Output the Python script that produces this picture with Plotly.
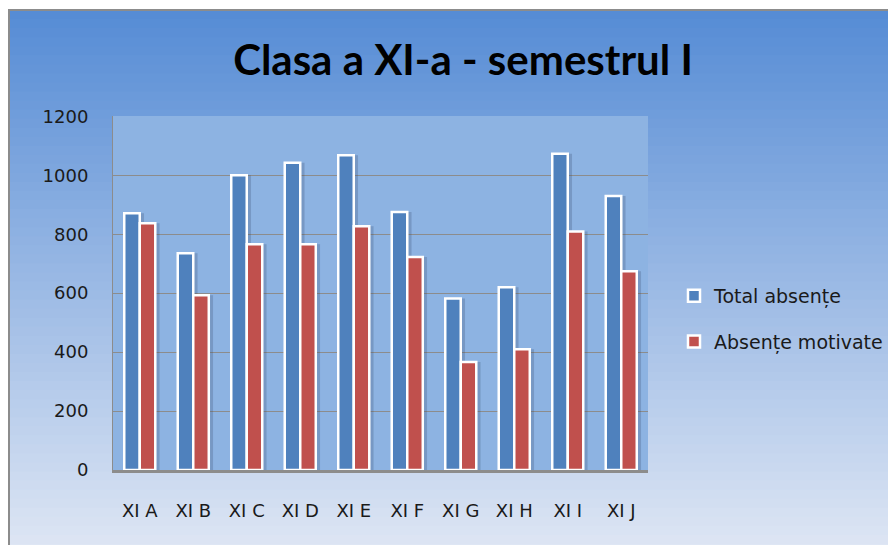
import plotly.graph_objects as go

categories = ["XI A", "XI B", "XI C", "XI D", "XI E", "XI F", "XI G", "XI H", "XI I", "XI J"]
total_absente = [871, 735, 1000, 1042, 1068, 875, 582, 620, 1073, 930]
absente_motivate = [837, 593, 766, 766, 827, 723, 366, 410, 809, 674]
series_names = ["Total absențe", "Absențe motivate"]

TITLE_FONT = "Lato"
FONT = "DejaVu Sans"

BAR_W = 0.29
SHADOW_DX = 0.08

fig = go.Figure()
# soft drop shadows behind the bars
for vals, off in [(total_absente, -BAR_W), (absente_motivate, 0.0)]:
    fig.add_trace(go.Bar(
        x=categories, y=vals, width=BAR_W, offset=off + SHADOW_DX,
        marker=dict(color="rgba(40,60,90,0.22)", line=dict(width=0)),
        showlegend=False, hoverinfo="skip",
    ))
fig.add_trace(go.Bar(
    x=categories, y=total_absente, name=series_names[0],
    width=BAR_W, offset=-BAR_W,
    marker=dict(color="#4f81bd", line=dict(color="white", width=2.5)),
    legendgroup="a",
))
fig.add_trace(go.Bar(
    x=categories, y=absente_motivate, name=series_names[1],
    width=BAR_W, offset=0.0,
    marker=dict(color="#c0504d", line=dict(color="white", width=2.5)),
    legendgroup="b",
))

# figure geometry in pixels
W, H = 896, 545
ml, mt = 105, 108
pw, ph = 535, 354
mr, mb = W - ml - pw, H - mt - ph


def px_x(x):
    return (x - ml) / pw


def px_y(y):
    return (H - mb - y) / ph


# vertical gradient background for the chart area (strips of colour)
top = (86, 140, 213)
bottom = (222, 230, 244)
n = 60
frame_top, frame_left = 2, 1
strip_h = (H - frame_top) / n
shapes = []
for i in range(n):
    t = i / (n - 1)
    c = tuple(int(round(top[k] + (bottom[k] - top[k]) * t)) for k in range(3))
    shapes.append(dict(
        type="rect", xref="paper", yref="paper", layer="below",
        x0=px_x(frame_left), x1=px_x(W + 5),
        y1=px_y(frame_top + i * strip_h), y0=px_y(frame_top + (i + 1) * strip_h + 1),
        line=dict(width=0), fillcolor="rgb(%d,%d,%d)" % c,
    ))
# frame border
shapes.append(dict(
    type="rect", xref="paper", yref="paper", layer="below",
    x0=px_x(frame_left), x1=px_x(W + 5), y0=px_y(H + 5), y1=px_y(frame_top),
    line=dict(color="#8c8c8c", width=2), fillcolor="rgba(0,0,0,0)",
))
# plot area fill
shapes.append(dict(
    type="rect", xref="paper", yref="paper", layer="below",
    x0=0, x1=1, y0=0, y1=1,
    line=dict(width=0), fillcolor="#8db3e2",
))

fig.update_layout(
    width=W, height=H,
    margin=dict(l=ml, r=mr, t=mt, b=mb),
    paper_bgcolor="white",
    plot_bgcolor="rgba(0,0,0,0)",
    shapes=shapes,
    barmode="overlay",
    title=dict(
        text="<b>Clasa a XI-a - semestrul I</b>",
        font=dict(family=TITLE_FONT, size=42, color="black"),
        x=455 / W, xanchor="center", y=1 - 52 / H, yanchor="middle",
    ),
    font=dict(family=FONT, size=18, color="#1a1a1a"),
    legend=dict(
        x=px_x(666), xanchor="left", y=px_y(311), yanchor="middle",
        bgcolor="rgba(0,0,0,0)", font=dict(size=19, color="#1a1a1a"),
        tracegroupgap=18, itemwidth=30,
    ),
    xaxis=dict(
        showgrid=False, showline=True, linecolor="#8c8c8c", linewidth=3,
        ticks="", ticklabelstandoff=22,
        tickfont=dict(size=18),
    ),
    yaxis=dict(
        range=[0, 1201], dtick=200, showgrid=True, gridcolor="#8c8c8c", gridwidth=1,
        showline=True, linecolor="#8c8c8c", linewidth=1, zeroline=False,
        ticks="", ticklabelstandoff=20, tickfont=dict(size=18),
    ),
)

fig.write_html("out.html")
